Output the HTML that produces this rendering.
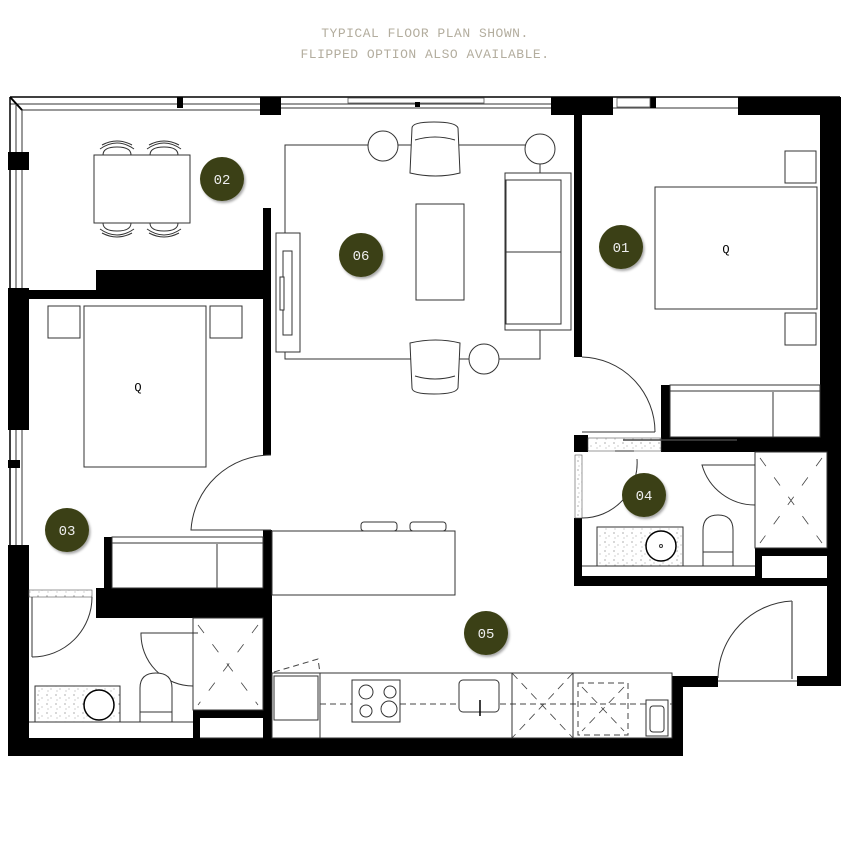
<!DOCTYPE html>
<html><head><meta charset="utf-8"><style>
html,body{margin:0;padding:0;background:#fff}
svg{display:block}
.t{font-family:"Liberation Mono",monospace;font-size:13px;fill:#b3ad9e;text-anchor:middle;letter-spacing:0.5px}
.l{font-family:"Liberation Mono",monospace;font-size:14px;fill:#eee;text-anchor:middle}
.f{fill:#fff;stroke:#333;stroke-width:1}
.n{fill:none;stroke:#333;stroke-width:1}
.d{fill:none;stroke:#444;stroke-width:1;stroke-dasharray:6 4}
.g{fill:#fff;stroke:#333;stroke-width:1}
</style></head><body>
<svg width="851" height="851" viewBox="0 0 851 851" xmlns="http://www.w3.org/2000/svg">
<defs>
<pattern id="sp" width="9" height="9" patternUnits="userSpaceOnUse">
<rect width="9" height="9" fill="#fff"/><circle cx="2" cy="2" r="0.6" fill="#777"/><circle cx="6" cy="5" r="0.5" fill="#777"/><circle cx="3" cy="7" r="0.5" fill="#888"/>
</pattern>
<filter id="sh"><feDropShadow dx="1.5" dy="2" stdDeviation="1.2" flood-color="#000" flood-opacity="0.35"/></filter>
</defs>
<text class="t" x="425" y="37">TYPICAL FLOOR PLAN SHOWN.</text>
<text class="t" x="425" y="58">FLIPPED OPTION ALSO AVAILABLE.</text>

<!-- top window lines -->
<line x1="10" y1="97" x2="840" y2="97" stroke="#000" stroke-width="1.5"/>
<line x1="10" y1="104" x2="551" y2="104" class="n"/>
<line x1="22" y1="110" x2="263" y2="110" class="n"/>
<line x1="280" y1="108" x2="551" y2="108" class="n"/>
<line x1="612" y1="108" x2="738" y2="108" class="n"/>
<line x1="10" y1="97" x2="22" y2="110" stroke="#000" stroke-width="2"/>
<!-- left window lines -->
<line x1="10" y1="97" x2="10" y2="755" stroke="#000" stroke-width="1.5"/>
<line x1="16" y1="104" x2="16" y2="290" class="n"/>
<line x1="22" y1="110" x2="22" y2="290" class="n"/>
<line x1="16" y1="430" x2="16" y2="545" class="n"/>
<line x1="22" y1="430" x2="22" y2="545" class="n"/>

<g fill="#000">
<!-- top blocks -->
<rect x="177" y="97" width="6" height="11"/>
<rect x="260" y="97" width="21" height="18"/>
<rect x="551" y="97" width="62" height="18"/>
<rect x="650" y="97" width="6" height="11"/>
<rect x="738" y="97" width="103" height="18"/>
<!-- right wall -->
<rect x="820" y="97" width="21" height="355"/>
<rect x="827" y="440" width="14" height="246"/>
<rect x="797" y="676" width="44" height="10"/>
<rect x="672" y="676" width="46" height="11"/>
<rect x="672" y="676" width="11" height="80"/>
<!-- bottom wall -->
<rect x="8" y="738" width="675" height="18"/>
<!-- left wall -->
<rect x="8" y="152" width="21" height="18"/>
<rect x="8" y="288" width="21" height="142"/>
<rect x="8" y="545" width="21" height="211"/>
<rect x="8" y="460" width="12" height="8"/>
<!-- wall dining / bed3 -->
<rect x="28" y="290" width="243" height="9"/>
<rect x="96" y="270" width="175" height="29"/>
<!-- vertical wall bed3/living -->
<rect x="263" y="208" width="8" height="247"/>
<!-- wall living/bed1 -->
<rect x="574" y="115" width="8" height="242"/>
<!-- bed1 wardrobe wall -->
<rect x="661" y="385" width="9" height="55"/>
<rect x="661" y="437" width="180" height="15"/>
<!-- bath04 walls -->
<rect x="574" y="435" width="14" height="17"/>
<rect x="574" y="518" width="8" height="68"/>
<rect x="574" y="576" width="186" height="10"/>
<rect x="755" y="548" width="80" height="8"/>
<rect x="755" y="578" width="80" height="8"/>
<rect x="755" y="548" width="7" height="38"/>
<!-- bed3 wardrobe + wall -->
<rect x="104" y="537" width="8" height="53"/>
<rect x="96" y="588" width="176" height="30"/>
<rect x="263" y="530" width="9" height="208"/>
<!-- bath03 -->
<rect x="193" y="710" width="70" height="8"/>
<rect x="193" y="710" width="7" height="30"/>
</g>
<line x1="200" y1="738" x2="263" y2="738" class="n"/>

<!-- top window detail -->
<rect x="348" y="98" width="136" height="5" fill="#fff" stroke="#555" stroke-width="0.8"/>
<rect x="415" y="102" width="5" height="5" fill="#000"/>
<rect x="617" y="98" width="33" height="9" fill="#fff" stroke="#555" stroke-width="0.8"/>

<!-- dining -->
<rect x="94" y="155" width="96" height="68" class="f"/>
<g class="n">
<path d="M103 155 q0-8 14-8 q14 0 14 8"/><path d="M100 149 q17-12 34 0"/><path d="M102 145 q15-8 30 0"/>
<path d="M150 155 q0-8 14-8 q14 0 14 8"/><path d="M147 149 q17-12 34 0"/><path d="M149 145 q15-8 30 0"/>
<path d="M103 223 q0 8 14 8 q14 0 14-8"/><path d="M100 229 q17 12 34 0"/><path d="M102 233 q15 8 30 0"/>
<path d="M150 223 q0 8 14 8 q14 0 14-8"/><path d="M147 229 q17 12 34 0"/><path d="M149 233 q15 8 30 0"/>
</g>

<!-- living -->
<rect x="285" y="145" width="255" height="214" class="n"/>
<rect x="416" y="204" width="48" height="96" class="f"/>
<rect x="505" y="173" width="66" height="157" class="f"/>
<rect x="506" y="180" width="55" height="144" class="f"/>
<line x1="506" y1="252" x2="561" y2="252" class="n"/>
<circle cx="383" cy="146" r="15" class="f"/>
<circle cx="540" cy="149" r="15" class="f"/>
<circle cx="484" cy="359" r="15" class="f"/>
<path d="M412 128 q0-6 22-6 q22 0 24 6 l2 45 q-24 6 -50 0 z" class="f"/>
<path d="M415 140 q20-6 40 0" class="n"/>
<path d="M412 388 q0 6 22 6 q22 0 24-6 l2-45 q-24-6 -50 0 z" class="f"/>
<path d="M415 376 q20 6 40 0" class="n"/>
<rect x="276" y="233" width="24" height="119" class="f"/>
<rect x="283" y="251" width="9" height="84" class="f"/>
<rect x="280" y="277" width="4" height="33" class="f"/>

<!-- bedroom 1 -->
<rect x="655" y="187" width="162" height="122" class="f"/>
<text x="726" y="253" font-family="Liberation Mono,monospace" font-size="12" text-anchor="middle">Q</text>
<rect x="785" y="151" width="31" height="32" class="f"/>
<rect x="785" y="313" width="31" height="32" class="f"/>
<path d="M582 357 A75 75 0 0 1 655 432" class="n"/>
<line x1="582" y1="432" x2="655" y2="432" class="n"/>
<rect x="670" y="385" width="150" height="52" class="f"/>
<line x1="670" y1="391" x2="820" y2="391" class="n"/>
<line x1="773" y1="392" x2="773" y2="437" class="n"/>
<!-- bath04 -->
<rect x="588" y="438" width="73" height="13" fill="url(#sp)" stroke="#555" stroke-width="0.6"/>
<line x1="623" y1="440" x2="737" y2="440" stroke="#444" stroke-width="1.5"/>
<line x1="615" y1="451" x2="634" y2="451" class="n"/>
<rect x="575" y="455" width="7" height="63" fill="url(#sp)" stroke="#555" stroke-width="0.6"/>
<path d="M582 518 A55 55 0 0 0 637 459" class="n"/>
<path d="M755 505 A55 55 0 0 1 702 465 L755 465" class="n"/>
<rect x="755" y="452" width="72" height="96" class="n"/>
<g stroke="#444" stroke-width="0.8"><line x1="760" y1="458" x2="822" y2="543" stroke-dasharray="10 14"/><line x1="822" y1="458" x2="760" y2="543" stroke-dasharray="10 14"/></g>
<rect x="597" y="527" width="86" height="39" fill="url(#sp)" stroke="#333"/>
<circle cx="661" cy="546" r="15" fill="#fff" stroke="#000" stroke-width="1.5"/>
<circle cx="661" cy="546" r="1.5" class="n"/>
<path d="M703 566 V530 q0-15 15-15 q15 0 15 15 V566 z" class="f"/>
<line x1="703" y1="552" x2="733" y2="552" class="n"/>
<line x1="582" y1="566" x2="755" y2="566" class="n"/>
<rect x="762" y="556" width="64" height="22" fill="#fff"/>

<!-- bedroom 3 -->
<rect x="84" y="306" width="122" height="161" class="f"/>
<text x="138" y="391" font-family="Liberation Mono,monospace" font-size="12" text-anchor="middle">Q</text>
<rect x="48" y="306" width="32" height="32" class="f"/>
<rect x="210" y="306" width="32" height="32" class="f"/>
<path d="M271 455 A80 80 0 0 0 191 530 L271 530" class="n"/>
<rect x="112" y="537" width="151" height="51" class="f"/>
<line x1="112" y1="543" x2="263" y2="543" class="n"/>
<line x1="217" y1="544" x2="217" y2="588" class="n"/>

<!-- bath03 -->
<rect x="29" y="590" width="63" height="7" fill="url(#sp)" stroke="#555" stroke-width="0.6"/>
<path d="M92 597 A60 60 0 0 1 32 657" class="n"/>
<line x1="32" y1="597" x2="32" y2="657" class="n"/>
<path d="M193 686 A52 52 0 0 1 141 633 L198 633" class="n"/>
<rect x="193" y="618" width="70" height="92" class="n"/>
<g stroke="#444" stroke-width="0.8"><line x1="198" y1="625" x2="258" y2="705" stroke-dasharray="10 14"/><line x1="258" y1="625" x2="198" y2="705" stroke-dasharray="10 14"/></g>
<rect x="35" y="686" width="85" height="36" fill="url(#sp)" stroke="#333"/>
<circle cx="99" cy="705" r="15" fill="#fff" stroke="#000" stroke-width="1.5"/>
<path d="M140 722 V688 q0-15 16-15 q16 0 16 15 V722 z" class="f"/>
<line x1="140" y1="712" x2="172" y2="712" class="n"/>
<line x1="29" y1="722" x2="193" y2="722" class="n"/>

<!-- kitchen -->
<rect x="272" y="531" width="183" height="64" class="f"/>
<rect x="361" y="522" width="36" height="9" rx="3" class="f"/>
<rect x="410" y="522" width="36" height="9" rx="3" class="f"/>
<rect x="272" y="673" width="400" height="65" class="f"/>
<rect x="274" y="676" width="44" height="44" class="f"/>
<line x1="320" y1="673" x2="320" y2="738" class="n"/>
<line x1="320" y1="704" x2="672" y2="704" class="d"/>
<path d="M274 672 L318 659 L320 673" class="d"/>
<rect x="352" y="680" width="48" height="42" class="f"/>
<circle cx="366" cy="692" r="7" class="n"/><circle cx="390" cy="692" r="6" class="n"/>
<circle cx="366" cy="711" r="6" class="n"/><circle cx="389" cy="709" r="8" class="n"/>
<rect x="459" y="680" width="40" height="32" rx="4" class="f"/>
<line x1="480" y1="700" x2="480" y2="716" stroke="#000" stroke-width="1.5"/>
<line x1="512" y1="673" x2="512" y2="738" class="n"/>
<line x1="573" y1="673" x2="573" y2="738" class="n"/>
<g stroke="#444" stroke-width="0.8"><line x1="512" y1="673" x2="573" y2="738" stroke-dasharray="8 6"/><line x1="573" y1="673" x2="512" y2="738" stroke-dasharray="8 6"/></g>
<rect x="578" y="683" width="50" height="52" class="d"/>
<g stroke="#444" stroke-width="0.8"><line x1="582" y1="687" x2="624" y2="731" stroke-dasharray="8 6"/><line x1="624" y1="687" x2="582" y2="731" stroke-dasharray="8 6"/></g>
<rect x="646" y="700" width="22" height="36" class="f"/>
<rect x="650" y="706" width="14" height="26" rx="3" class="n"/>
<!-- entrance door -->
<path d="M718 678 A78 78 0 0 1 792 601" class="n"/>
<line x1="792" y1="601" x2="792" y2="679" stroke="#555" stroke-width="1.3"/>
<line x1="718" y1="681" x2="797" y2="681" class="n"/>

<!-- labels -->
<g fill="#3a3f12" filter="url(#sh)">
<circle cx="222" cy="179" r="22"/><circle cx="361" cy="255" r="22"/>
<circle cx="621" cy="247" r="22"/><circle cx="67" cy="530" r="22"/>
<circle cx="644" cy="495" r="22"/><circle cx="486" cy="633" r="22"/>
</g>
<text class="l" x="222" y="184">02</text>
<text class="l" x="361" y="260">06</text>
<text class="l" x="621" y="252">01</text>
<text class="l" x="67" y="535">03</text>
<text class="l" x="644" y="500">04</text>
<text class="l" x="486" y="638">05</text>
</svg>
</body></html>
